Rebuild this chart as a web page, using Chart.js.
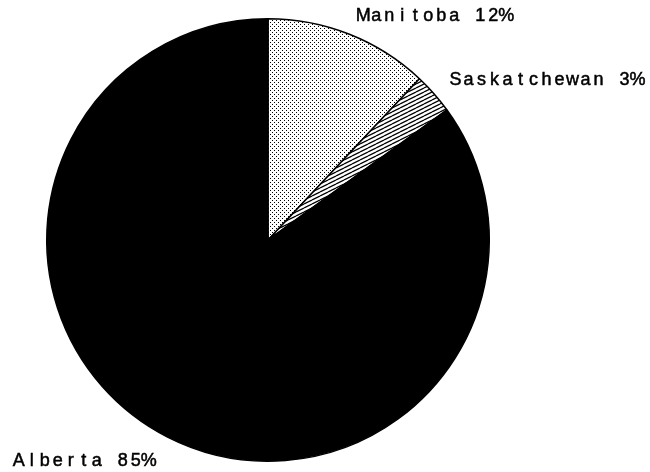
<!DOCTYPE html>
<html>
<head>
<meta charset="utf-8">
<script src="https://cdn.jsdelivr.net/npm/chart.js@4.4.1/dist/chart.umd.min.js"></script>
<style>
  html, body { margin: 0; padding: 0; background: #fff; }
  canvas { display: block; }
</style>
</head>
<body>
<canvas id="pie" width="650" height="472"></canvas>
<script>
var provinces = ['Manitoba', 'Saskatchewan', 'Alberta'];
var shares = [12, 3, 85];

// fill patterns: stipple, diagonal hatch, solid black
function stipple() {
  var c = document.createElement('canvas');
  c.width = 4; c.height = 4;
  var g = c.getContext('2d');
  g.fillStyle = '#fff';
  g.fillRect(0, 0, 4, 4);
  g.fillStyle = '#000';
  g.fillRect(0, 0, 1, 1);
  g.fillRect(2, 2, 1, 1);
  return g.createPattern(c, 'repeat');
}

function hatch() {
  var c = document.createElement('canvas');
  c.width = 8; c.height = 4;
  var g = c.getContext('2d');
  g.fillStyle = '#fff';
  g.fillRect(0, 0, 8, 4);
  g.strokeStyle = '#000';
  g.lineWidth = 1.3;
  [-4, 0, 4].forEach(function (off) {
    g.beginPath();
    g.moveTo(0, 4 + off);
    g.lineTo(8, 0 + off);
    g.stroke();
  });
  return g.createPattern(c, 'repeat');
}

// gap between the rim and each label, along the slice's middle angle
var labelGap = [20, 20, 27];

// labels drawn one character per fixed-width cell, like the old plotter font
var sliceLabels = {
  id: 'sliceLabels',
  afterDatasetsDraw: function (chart) {
    var ctx = chart.ctx;
    var meta = chart.getDatasetMeta(0);
    var advance = 13;
    ctx.save();
    ctx.fillStyle = '#000';
    ctx.strokeStyle = '#000';
    ctx.lineWidth = 0.5;
    ctx.font = '18px "Liberation Sans", Arial, sans-serif';
    ctx.textAlign = 'center';
    ctx.textBaseline = 'middle';
    meta.data.forEach(function (arc, i) {
      var p = arc.getProps(['x', 'y', 'startAngle', 'endAngle', 'outerRadius'], true);
      var mid = (p.startAngle + p.endAngle) / 2;
      var d = p.outerRadius + labelGap[i];
      var ax = p.x + Math.cos(mid) * d;
      var ay = p.y + Math.sin(mid) * d;
      var text = provinces[i] + ' ' + shares[i] + '%';
      var x0 = Math.cos(mid) >= 0 ? ax : ax - text.length * advance;
      for (var k = 0; k < text.length; k++) {
        var cx = x0 + k * advance + advance / 2;
        ctx.fillText(text[k], cx, ay);
        ctx.strokeText(text[k], cx, ay);
      }
    });
    ctx.restore();
  }
};

new Chart(document.getElementById('pie').getContext('2d'), {
  type: 'pie',
  data: {
    labels: provinces,
    datasets: [{
      data: shares,
      backgroundColor: [stipple(), hatch(), '#000'],
      borderColor: '#000',
      borderWidth: 1.5
    }]
  },
  options: {
    responsive: false,
    animation: false,
    layout: { padding: { left: 46, right: 160, top: 18, bottom: 10 } },
    plugins: {
      legend: { display: false },
      tooltip: { enabled: false }
    }
  },
  plugins: [sliceLabels]
});
</script>
</body>
</html>
